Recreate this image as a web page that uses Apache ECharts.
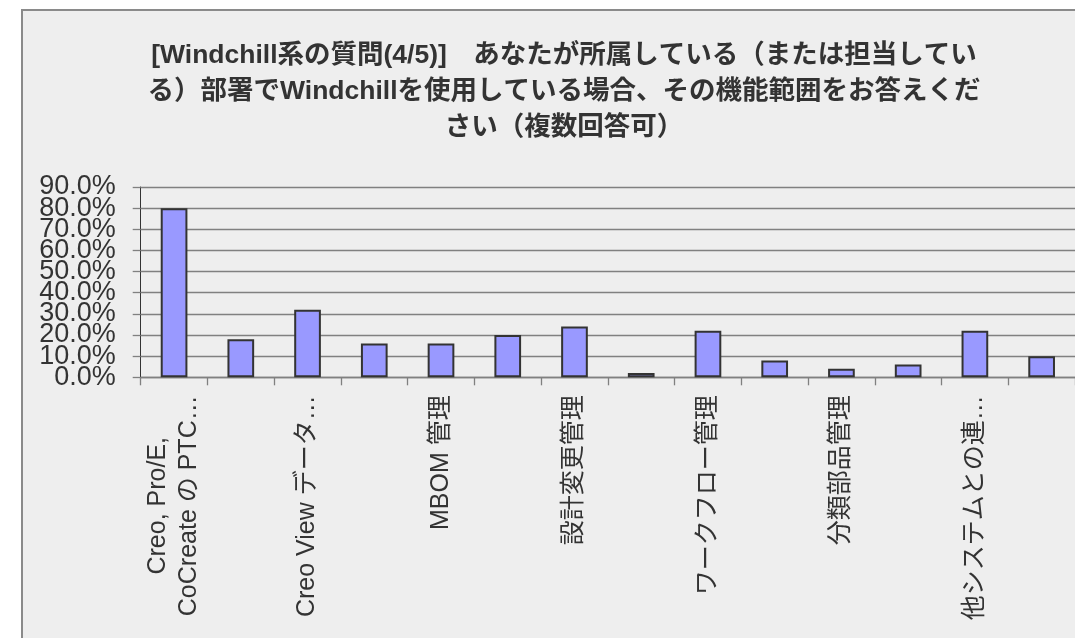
<!DOCTYPE html>
<html>
<head>
<meta charset="utf-8">
<title>Windchill 機能範囲</title>
<script src="https://cdn.jsdelivr.net/npm/echarts@6/dist/echarts.min.js"></script>
<style>
  html, body { margin: 0; padding: 0; background: #fff; }
  #chart { width: 1075px; height: 638px; }
</style>
</head>
<body>
<div id="chart"></div>
<script>
// 設問タイトル
const titleText = '[Windchill系の質問(4/5)]\u3000あなたが所属している（または担当してい\n' +
    'る）部署でWindchillを使用している場合、その機能範囲をお答えくだ\n' +
    'さい（複数回答可）'

// 選択肢（奇数番目のラベルは元の図では省略表示）
const categories = [
    'Creo, Pro/E,\nCoCreate の PTC…',
    '部品管理',
    'Creo View データ…',
    '文書管理',
    'MBOM 管理',
    '構成管理',
    '設計変更管理',
    'プロジェクト管理',
    'ワークフロー管理',
    '可視化',
    '分類部品管理',
    'サプライヤ管理',
    '他システムとの連…',
    'その他'
]

// 回答率 (%)
const ratios = [80, 18, 32, 16, 16, 20, 24, 2, 22, 8, 4, 6, 22, 10]

// 縦軸
const yMax = 90
const yStep = 10
const yTickLabels = ['0.0%', '10.0%', '20.0%', '30.0%', '40.0%', '50.0%', '60.0%', '70.0%', '80.0%', '90.0%']

const FONT = '"Liberation Sans", Arial, "Noto Sans CJK JP", sans-serif'
const TEXT = '#333333'

const myChart = echarts.init(document.getElementById('chart'))

const option = {
    backgroundColor: '#ffffff',
    animation: false,
    graphic: [{
        type: 'rect',
        z: -100,
        shape: { x: 22, y: 10, width: 1200, height: 800 },
        style: { fill: '#eeeeee', stroke: '#8a8a8a', lineWidth: 2 }
    }],
    title: {
        text: titleText,
        left: 559,
        top: 33,
        textAlign: 'center',
        textStyle: {
            fontFamily: FONT,
            fontSize: 26.5,
            fontWeight: 'bold',
            color: TEXT,
            lineHeight: 36
        }
    },
    grid: {
        left: 140.7,
        top: 187,
        width: 937.2,
        height: 190.3
    },
    xAxis: {
        type: 'category',
        data: categories,
        boundaryGap: true,
        axisLine: { lineStyle: { color: '#808080', width: 1.3 } },
        axisTick: { show: true, interval: 0, length: 8, lineStyle: { color: '#808080', width: 1.3 } },
        axisLabel: {
            interval: 1,
            rotate: 90,
            margin: 18,
            fontFamily: FONT,
            fontSize: 25,
            color: TEXT,
            lineHeight: 31,
            formatter: (v) => v.split('\n').map(s => '{c|' + s + '}').join('\n'),
            rich: {
                c: { align: 'center', fontFamily: FONT, fontSize: 25, color: TEXT, lineHeight: 31 }
            }
        }
    },
    yAxis: [{
        // 値軸（棒の高さ・目盛線）
        type: 'value',
        min: 0,
        max: yMax,
        interval: yStep,
        axisLine: { show: true, lineStyle: { color: '#333333', width: 1 } },
        axisTick: { show: true, length: 8, lineStyle: { color: '#808080', width: 1.3 } },
        splitLine: { show: true, lineStyle: { color: '#808080', width: 1.3 } },
        axisLabel: { show: false }
    }, {
        // 目盛ラベル（重なっても全部出す）
        type: 'category',
        position: 'left',
        data: yTickLabels,
        boundaryGap: false,
        axisLine: { show: false },
        axisTick: { show: false },
        splitLine: { show: false },
        axisLabel: {
            interval: 0,
            margin: 25,
            fontFamily: FONT,
            fontSize: 27,
            color: TEXT
        }
    }],
    series: [{
        type: 'bar',
        data: ratios,
        barWidth: '40%',
        itemStyle: {
            color: '#9999ff',
            borderColor: '#333333',
            borderWidth: 2
        }
    }]
}

myChart.setOption(option)
</script>
</body>
</html>
